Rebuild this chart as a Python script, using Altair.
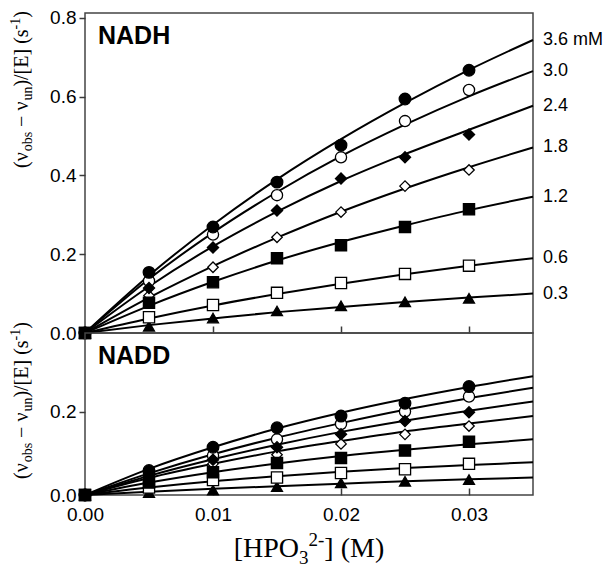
import altair as alt
import pandas as pd

# ---------------- data ----------------
x_pts = [0.0, 0.005, 0.010, 0.015, 0.020, 0.025, 0.030]
x_fit = [0.0, 0.005, 0.010, 0.015, 0.020, 0.025, 0.030, 0.035]
series = ["3.6", "3.0", "2.4", "1.8", "1.2", "0.6", "0.3"]
series_labels = ["3.6 mM", "3.0", "2.4", "1.8", "1.2", "0.6", "0.3"]

# NADH measured points
nadh_36 = [0, 0.154, 0.269, 0.383, 0.477, 0.594, 0.667]
nadh_30 = [0, 0.132, 0.250, 0.350, 0.446, 0.538, 0.617]
nadh_24 = [0, 0.114, 0.217, 0.311, 0.392, 0.446, 0.504]
nadh_18 = [0, 0.095, 0.167, 0.243, 0.307, 0.373, 0.414]
nadh_12 = [0, 0.077, 0.129, 0.190, 0.223, 0.269, 0.314]
nadh_06 = [0, 0.040, 0.071, 0.102, 0.127, 0.150, 0.171]
nadh_03 = [0, 0.017, 0.038, 0.056, 0.069, 0.079, 0.088]

# NADH fitted curves
nadh_fit_36 = [0, 0.146, 0.275, 0.390, 0.492, 0.584, 0.668, 0.744]
nadh_fit_30 = [0, 0.137, 0.255, 0.358, 0.449, 0.529, 0.601, 0.665]
nadh_fit_24 = [0, 0.118, 0.220, 0.308, 0.386, 0.454, 0.516, 0.577]
nadh_fit_18 = [0, 0.090, 0.170, 0.242, 0.308, 0.367, 0.421, 0.471]
nadh_fit_12 = [0, 0.069, 0.130, 0.184, 0.231, 0.273, 0.312, 0.346]
nadh_fit_06 = [0, 0.037, 0.070, 0.099, 0.125, 0.149, 0.171, 0.190]
nadh_fit_03 = [0, 0.020, 0.037, 0.053, 0.066, 0.079, 0.090, 0.100]

# NADD measured points
nadd_36 = [0, 0.059, 0.115, 0.162, 0.190, 0.221, 0.261]
nadd_30 = [0, 0.053, 0.095, 0.134, 0.171, 0.201, 0.237]
nadd_24 = [0, 0.046, 0.085, 0.115, 0.146, 0.178, 0.199]
nadd_18 = [0, 0.040, 0.075, 0.097, 0.123, 0.146, 0.166]
nadd_12 = [0, 0.030, 0.055, 0.077, 0.089, 0.107, 0.128]
nadd_06 = [0, 0.018, 0.036, 0.042, 0.053, 0.062, 0.075]
nadd_03 = [0, 0.006, 0.012, 0.020, 0.029, 0.033, 0.037]

# NADD fitted curves
nadd_fit_36 = [0, 0.063, 0.115, 0.160, 0.198, 0.231, 0.260, 0.286]
nadd_fit_30 = [0, 0.052, 0.098, 0.138, 0.173, 0.205, 0.233, 0.258]
nadd_fit_24 = [0, 0.046, 0.086, 0.121, 0.152, 0.179, 0.203, 0.225]
nadd_fit_18 = [0, 0.041, 0.075, 0.105, 0.130, 0.153, 0.172, 0.190]
nadd_fit_12 = [0, 0.030, 0.055, 0.076, 0.094, 0.109, 0.122, 0.134]
nadd_fit_06 = [0, 0.018, 0.033, 0.045, 0.056, 0.065, 0.072, 0.079]
nadd_fit_03 = [0, 0.008, 0.015, 0.021, 0.027, 0.033, 0.038, 0.042]

y_ticks_top = [0.0, 0.2, 0.4, 0.6, 0.8]
y_ticks_bottom = [0.0, 0.2]
x_ticks = [0.0, 0.01, 0.02, 0.03]

# ---------------- styles ----------------
marker_shape = {"3.6": "circle", "3.0": "circle", "2.4": "diamond", "1.8": "diamond",
                "1.2": "square", "0.6": "square", "0.3": "triangle-up"}
marker_fill = {"3.6": "black", "3.0": "white", "2.4": "black", "1.8": "white",
               "1.2": "black", "0.6": "white", "0.3": "black"}
marker_size = {"3.6": 135, "3.0": 125, "2.4": 125, "1.8": 110,
               "1.2": 125, "0.6": 125, "0.3": 120}
draw_order = ["0.3", "0.6", "1.8", "3.0", "2.4", "3.6", "1.2"]

PLOT_W = 448
TOP_H = 320
BOT_H = 162
SANS = "Liberation Sans"
SERIF = "Liberation Serif"
AXC = "#3a3a3a"


def tables(pts, fits):
    prow, frow = [], []
    for s in draw_order:
        for x, y in zip(x_pts, pts[s]):
            prow.append({"x": x, "y": y, "series": s, "shape": marker_shape[s],
                         "fillc": marker_fill[s], "size": marker_size[s]})
    for s in series:
        for x, y in zip(x_fit, fits[s]):
            frow.append({"x": x, "y": y, "series": s})
    return pd.DataFrame(prow), pd.DataFrame(frow)


nadh_p, nadh_f = tables(
    dict(zip(series, [nadh_36, nadh_30, nadh_24, nadh_18, nadh_12, nadh_06, nadh_03])),
    dict(zip(series, [nadh_fit_36, nadh_fit_30, nadh_fit_24, nadh_fit_18, nadh_fit_12, nadh_fit_06, nadh_fit_03])))
nadd_p, nadd_f = tables(
    dict(zip(series, [nadd_36, nadd_30, nadd_24, nadd_18, nadd_12, nadd_06, nadd_03])),
    dict(zip(series, [nadd_fit_36, nadd_fit_30, nadd_fit_24, nadd_fit_18, nadd_fit_12, nadd_fit_06, nadd_fit_03])))

label_df = pd.DataFrame({
    "x": [x_fit[-1]] * len(series),
    "y": [f[-1] for f in [nadh_fit_36, nadh_fit_30, nadh_fit_24, nadh_fit_18, nadh_fit_12, nadh_fit_06, nadh_fit_03]],
    "label": series_labels,
})


def text_at(txt, x, y, size, angle=0, font=SERIF, weight="normal"):
    kw = dict(align="left", baseline="alphabetic", font=font, fontSize=size,
              fontWeight=weight, color="black")
    if angle:
        kw["angle"] = angle
    return alt.Chart(pd.DataFrame({"t": [txt]})).mark_text(**kw).encode(
        text="t:N", x=alt.value(x), y=alt.value(y))


# y title segments: text, font size, baseline shift (+ = subscript), advance, gap before
F, S = 20, 14
ytitle_segs = [
    ("(ν", F, 0, 16.7, 0),
    ("obs", S, 4, 19.4, 0),
    ("− ν", F, 0, 26.3, 5),
    ("un", S, 4, 14.0, 0),
    (")/[E] (s", F, 0, 57.2, 0),
    ("-1", S, -8, 11.7, 0),
    (")", F, 0, 6.7, 0),
]


def ytitle(y_start):
    out = []
    pos = y_start
    for txt, fs, shift, w, gap in ytitle_segs:
        pos -= gap
        out.append(text_at(txt, -57 + shift, pos, fs, angle=270))
        pos -= w
    return out


def xtitle():
    XF, XS = 28, 19
    base = BOT_H + 62
    segs = [("[HPO", XF, 0, 65.3), ("3", XS, 7, 9.5), ("2-", XS, -11, 15.8), ("] (M)", XF, 0, 59.9)]
    total = sum(s[3] for s in segs)
    pos = PLOT_W / 2 - total / 2
    out = []
    for txt, fs, shift, w in segs:
        out.append(text_at(txt, pos, base + shift, fs))
        pos += w
    return out


def panel(pts_df, fit_df, ymax, height, yvals, show_xlabels, name, title_start, labels=None):
    x_axis = alt.Axis(values=x_ticks, labels=show_xlabels, format=".2f", title=None, grid=False,
                      domain=False, tickSize=7, offset=-7, tickColor=AXC, tickWidth=1.5,
                      labelFont=SANS, labelFontSize=19, labelColor="black", labelPadding=10,
                      labelFlush=False)
    y_axis = alt.Axis(values=yvals, format=".1f", title=None, grid=False, domain=False,
                      tickSize=6, tickColor=AXC, tickWidth=1.5, labelFont=SANS,
                      labelFontSize=19, labelColor="black", labelPadding=3, labelFlush=False)
    x_enc = alt.X("x:Q", scale=alt.Scale(domain=[0, 0.035], nice=False, zero=False), axis=x_axis)
    y_enc = alt.Y("y:Q", scale=alt.Scale(domain=[0, ymax], nice=False, zero=False), axis=y_axis)

    lines = alt.Chart(fit_df).mark_line(color="black", strokeWidth=2, interpolate="monotone").encode(
        x=x_enc, y=y_enc, detail="series:N")
    pts = alt.Chart(pts_df).mark_point(filled=True, opacity=1, stroke="black", strokeWidth=1.3).encode(
        x=x_enc, y=y_enc,
        shape=alt.Shape("shape:N", scale=None),
        fill=alt.Fill("fillc:N", scale=None),
        size=alt.Size("size:Q", scale=None))
    layers = [lines, pts]
    if labels is not None:
        layers.append(alt.Chart(labels).mark_text(
            align="left", baseline="middle", dx=10, font=SANS, fontSize=18, color="black").encode(
            x=x_enc, y=y_enc, text="label:N"))
    layers.append(text_at(name, 13, 31, 25, font=SANS, weight="bold"))
    layers += ytitle(title_start)
    if show_xlabels:
        layers += xtitle()
    return alt.layer(*layers).properties(width=PLOT_W, height=height)


top = panel(nadh_p, nadh_f, 0.8125, TOP_H, y_ticks_top, False, "NADH", 155, labels=label_df)
bottom = panel(nadd_p, nadd_f, 0.39, BOT_H, y_ticks_bottom, True, "NADD", 146)

chart = alt.vconcat(top, bottom, spacing=0, bounds="flush").resolve_scale(
    x="independent", y="independent"
).configure_view(stroke="#444", strokeWidth=1.5).properties(
    padding={"left": 0, "top": 0, "right": 0, "bottom": 0}
)

chart.save("out.html", embed_options={"renderer": "svg", "actions": False})
